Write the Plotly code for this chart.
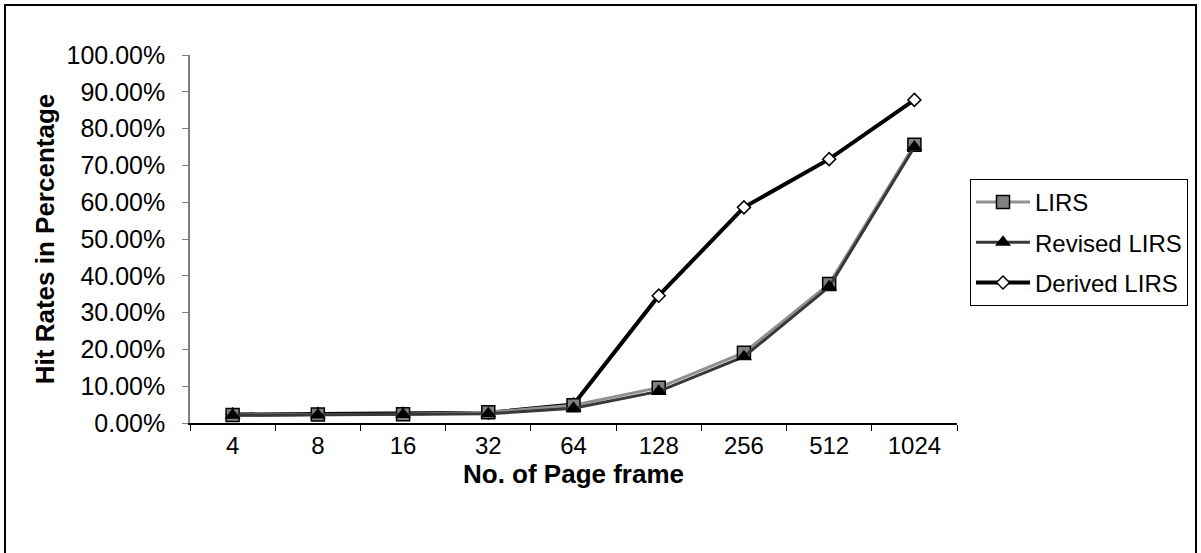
import plotly.graph_objects as go

# Page-frame counts and hit rates (fractions) for each replacement policy
frames = ["4", "8", "16", "32", "64", "128", "256", "512", "1024"]
lirs = [0.022, 0.023, 0.024, 0.029, 0.048, 0.096, 0.191, 0.378, 0.756]
revised_lirs = [0.021, 0.022, 0.023, 0.025, 0.040, 0.086, 0.180, 0.370, 0.750]
derived_lirs = [0.023, 0.024, 0.025, 0.028, 0.050, 0.346, 0.586, 0.717, 0.878]

FONT = "Liberation Sans, Arial, sans-serif"

fig = go.Figure()
# Derived series is drawn first so the other markers sit on top of it
fig.add_trace(go.Scatter(
    x=frames, y=derived_lirs, name="Derived LIRS", mode="lines+markers",
    legendgroup="c", legendrank=3,
    line=dict(color="#000000", width=4),
    marker=dict(symbol="diamond", size=10, color="#ffffff",
                line=dict(color="#000000", width=1.5)),
))
fig.add_trace(go.Scatter(
    x=frames, y=lirs, name="LIRS", mode="lines+markers",
    legendgroup="a", legendrank=1,
    line=dict(color="#909090", width=3),
    marker=dict(symbol="square", size=13, color="#808080",
                line=dict(color="#000000", width=1.5)),
))
fig.add_trace(go.Scatter(
    x=frames, y=revised_lirs, name="Revised LIRS", mode="lines+markers",
    legendgroup="b", legendrank=2,
    line=dict(color="#383838", width=3),
    marker=dict(symbol="triangle-up", size=14, color="#000000",
                line=dict(color="#000000", width=0)),
))

# Plot area: x 190..957 px, y 55..423 px
L, R, T, B = 190, 957, 55, 423
W, H = R - L, B - T

def px_x(p):
    return (p - L) / W

def px_y(p):
    return (B - p) / H

fig.update_layout(
    width=1201, height=553,
    margin=dict(l=L, r=1201 - R, t=T, b=553 - B),
    paper_bgcolor="white", plot_bgcolor="white",
    font=dict(family=FONT, size=25, color="#000000"),
    showlegend=True,
    legend=dict(
        x=px_x(970), y=px_y(179), xanchor="left", yanchor="top",
        bordercolor="#000000", borderwidth=1, bgcolor="white",
        font=dict(family=FONT, size=24, color="#000000"),
        tracegroupgap=6, itemwidth=54, traceorder="grouped",
    ),
    xaxis=dict(
        type="category", range=[-0.5, 8.5],
        showline=True, linecolor="#000000", linewidth=1.5,
        ticks="outside", ticklen=6, tickcolor="#000000", tickson="boundaries",
        showgrid=False, zeroline=False,
        tickfont=dict(family=FONT, size=24),
        title=dict(text="<b>No. of Page frame</b>", standoff=6,
                   font=dict(family=FONT, size=26)),
    ),
    yaxis=dict(
        range=[0, 1], dtick=0.1, tickformat=".2%",
        showline=True, linecolor="#808080", linewidth=1.5,
        ticks="outside", ticklen=6, tickcolor="#808080",
        showgrid=False, zeroline=False, ticklabelstandoff=12,
        tickfont=dict(family=FONT, size=25),
        title=dict(text="<b>Hit Rates in Percentage</b>", standoff=4,
                   font=dict(family=FONT, size=26)),
    ),
    shapes=[dict(
        type="rect", xref="paper", yref="paper",
        x0=px_x(5), x1=px_x(1196), y0=px_y(560), y1=px_y(5),
        line=dict(color="#000000", width=2), layer="below",
    )],
)

fig.write_html("out.html")
